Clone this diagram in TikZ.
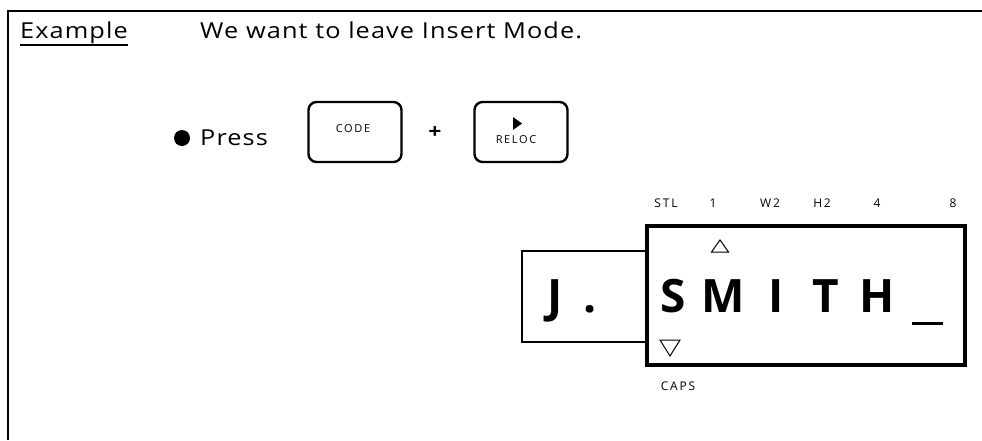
\documentclass[tikz,border=0pt]{standalone}
\usepackage{fontspec}
\setmainfont{Open Sans}[FakeStretch=1.15, LetterSpace=5]
\newfontfamily\lcdfont{Open Sans}[LetterSpace=15]
\newfontfamily\bigfont{Open Sans}
\usetikzlibrary{calc}
\newcommand{\bodysize}{\fontsize{22}{26}\selectfont}
\begin{document}
\begin{tikzpicture}[x=1pt, y=-1pt,
  bodytext/.style={font=\bodysize, anchor=base west, inner sep=0pt},
  keybox/.style={draw, line width=2.4pt, rounded corners=8pt,
    minimum width=93pt, minimum height=60pt},
  keylabel/.style={font=\lcdfont\fontsize{11}{12}\selectfont, inner sep=0pt},
  lcdlabel/.style={font=\lcdfont\fontsize{12}{13}\selectfont, anchor=base, inner sep=0pt},
  bigchar/.style={font=\bigfont\bfseries\fontsize{46}{50}\selectfont, anchor=base, inner sep=0pt}]
  \useasboundingbox (0,0) rectangle (982,440);

  % page frame (top and left rule)
  \draw[line width=1.8pt] (8,440) -- (8,11) -- (982,11);

  % heading
  \node[bodytext] (example) at (20,38) {Example};
  \draw[line width=1.3pt] ($(example.base west)+(0,7)$) -- ($(example.base east)+(0,7)$);
  \node[bodytext] (goal) at (200,38) {We want to leave Insert Mode.};

  % key sequence
  \fill (182,138) circle (8pt);
  \node[bodytext] (press) at (200,145) {Press};
  \node[keybox] (codekey) at (355,132) {};
  \node[keylabel] (codetext) at (353,129) {CODE};
  \node[font=\bfseries\fontsize{20}{24}\selectfont] (plus) at (435,133) {+};
  \node[keybox] (relockey) at (521,132) {};
  \fill (513,117) -- (522,123.5) -- (513,130) -- cycle;
  \node[keylabel] (reloctext) at (516,140) {RELOC};

  % display window
  \node[draw, line width=1.8pt, minimum width=125pt, minimum height=91pt] (jbox) at (584.5,296.5) {};
  \node[draw, line width=3.5pt, minimum width=318pt, minimum height=139pt] (lcd) at (806,295.5) {};

  % status labels above the display
  \foreach \lab/\xpos in {STL/666, 1/713, W2/770, H2/822, 4/877, 8/953}
    \node[lcdlabel] (lab-\lab) at (\xpos,207) {\lab};
  \node[lcdlabel] (caps) at (678,390) {CAPS};

  % markers
  \draw[line width=1pt] (711.5,252) -- (728.5,252) -- (720,240) -- cycle;
  \draw[line width=1pt] (660,340) -- (680,340) -- (670,356) -- cycle;

  % characters on the display
  \foreach \ch/\xpos in {J/555, ./590, S/673, M/723, I/776, T/826, H/877}
    \node[bigchar] (ch-\ch) at (\xpos,312) {\ch};
  \draw[line width=3pt] (912,323) -- (943,323);
\end{tikzpicture}
\end{document}
